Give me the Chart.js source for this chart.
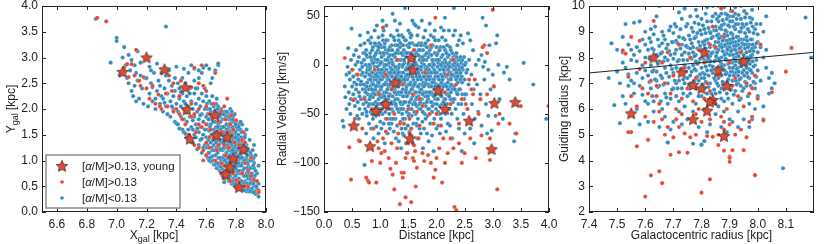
<!DOCTYPE html>
<html><head><meta charset="utf-8">
<script src="https://cdn.jsdelivr.net/npm/chart.js@4/dist/chart.umd.min.js"></script>
<style>
html,body{margin:0;padding:0;background:#fff;width:830px;height:244px;overflow:hidden}
canvas{position:absolute;left:0;top:0}
</style></head>
<body>
<canvas id="c1" width="830" height="244"></canvas>
<canvas id="c2" width="830" height="244"></canvas>
<canvas id="c3" width="830" height="244"></canvas>
<script>
// ---------------- DATA (flat x,y pairs) ----------------
// Panel 1: Xgal vs Ygal
const p1Young = [7.04,2.72, 7.20,3.0, 7.32,2.77, 7.46,2.42, 7.47,1.99, 7.49,1.42, 7.66,1.88, 7.67,1.49, 7.74,1.45, 7.85,1.22, 7.78,1.04, 7.76,0.87, 7.73,0.74, 7.82,0.48];
const p1High = [6.87,3.77, 6.93,3.7, 7.13,3.15, 7.05,2.8, 7.07,2.87, 7.1,2.87, 7.08,2.62, 7.12,2.65, 7.15,2.55, 7.18,2.62, 7.16,2.45, 7.2,2.4, 7.24,2.45, 7.22,2.2, 7.26,2.1, 7.29,2.05, 7.3,2.0, 7.35,2.65, 7.38,2.5, 7.37,2.35, 7.43,2.55, 7.42,2.25, 7.4,2.0, 7.44,1.8, 7.46,1.7, 7.47,1.93, 7.5,1.85, 7.52,1.9, 7.55,1.7, 7.53,1.55, 7.5,2.42, 7.55,2.5, 7.58,2.45, 7.6,2.35, 7.66,2.7, 7.57,2.85, 7.52,2.8, 7.48,1.5, 7.52,1.3, 7.55,1.25, 7.58,1.2, 7.6,1.35, 7.62,1.25, 7.6,1.1, 7.63,1.6, 7.65,1.85, 7.62,1.9, 7.68,1.75, 7.7,1.95, 7.72,2.05, 7.74,2.2, 7.69,1.55, 7.68,1.3, 7.66,1.0, 7.7,0.95, 7.72,1.3, 7.74,1.55, 7.76,1.7, 7.78,1.6, 7.73,1.1, 7.75,0.85, 7.7,0.75, 7.72,0.65, 7.78,0.75, 7.8,1.0, 7.82,1.3, 7.85,1.55, 7.84,1.4, 7.83,1.15, 7.86,0.95, 7.88,0.8, 7.82,0.58, 7.8,0.47, 7.86,0.5, 7.9,0.7, 7.92,0.62, 7.94,0.6, 7.95,0.42, 7.95,0.38, 7.88,0.5, 7.84,0.75, 7.79,1.35, 7.77,1.05, 7.75,1.25, 7.65,1.45, 7.6,1.7, 7.57,1.65, 7.62,1.45, 7.67,1.2, 7.7,1.55, 7.73,1.8, 7.77,1.5, 7.45,2.0, 7.42,1.9, 7.38,1.95, 7.34,2.05, 7.33,2.3, 7.28,2.28, 7.58,1.0, 7.86,1.35, 7.9,1.05, 7.8,0.62, 7.76,0.6, 7.72,0.9, 7.77,1.88, 7.8,1.78, 7.65,2.1, 7.6,2.05, 7.55,2.0, 7.5,2.1];
const p1Low = [6.86,3.75, 6.96,2.9, 7.0,3.38, 7.0,3.32, 7.02,2.66, 7.03,2.7,
7.04,3.0, 7.05,3.2, 7.06,2.85, 7.07,2.6, 7.08,2.5, 7.09,2.75, 7.1,2.35, 7.1,2.95, 7.08,3.05,
7.11,2.25, 7.12,2.45, 7.13,2.7, 7.14,2.55, 7.15,2.2, 7.16,2.9, 7.17,2.4, 7.18,2.1, 7.19,2.6, 7.14,3.12, 7.13,2.15,
7.21,2.05, 7.22,2.3, 7.23,2.5, 7.24,2.15, 7.25,2.7, 7.26,2.0, 7.27,2.35, 7.28,2.55, 7.29,2.1, 7.3,2.25, 7.22,2.82, 7.27,2.88, 7.24,2.42, 7.29,2.45, 7.26,2.2,
7.31,1.95, 7.31,2.2, 7.32,2.4, 7.33,2.05, 7.34,1.9, 7.34,2.3, 7.35,2.55, 7.36,2.15, 7.36,1.85, 7.37,2.45, 7.38,2.0, 7.38,2.25, 7.39,1.75, 7.39,2.35, 7.4,2.1, 7.4,1.72, 7.35,2.75, 7.33,3.6, 7.37,2.05, 7.32,2.12,
7.41,1.7, 7.41,1.95, 7.42,2.2, 7.42,2.4, 7.43,1.85, 7.43,2.05, 7.44,1.6, 7.44,2.3, 7.45,1.55, 7.45,2.15, 7.46,1.95, 7.46,2.5, 7.47,1.45, 7.47,1.75, 7.47,2.25, 7.48,2.05, 7.48,1.6, 7.49,2.4, 7.49,1.85, 7.5,2.15, 7.5,1.35, 7.5,1.65, 7.44,2.6, 7.48,2.7, 7.42,1.62, 7.46,2.1, 7.41,2.5, 7.49,2.3, 7.45,1.8, 7.43,2.33, 7.48,1.4, 7.46,1.52,
7.51,1.35, 7.51,1.6, 7.51,2.0, 7.52,1.85, 7.52,2.3, 7.53,1.45, 7.53,1.7, 7.53,2.1, 7.54,1.22, 7.54,1.95, 7.54,2.4, 7.55,1.55, 7.55,1.8, 7.55,2.2, 7.56,1.4, 7.56,1.65, 7.56,2.05, 7.57,1.15, 7.57,1.9, 7.57,2.3, 7.58,1.5, 7.58,1.75, 7.58,2.15, 7.59,1.3, 7.59,1.6, 7.59,2.0, 7.6,1.1, 7.6,1.85, 7.6,2.25, 7.52,2.55, 7.55,2.6, 7.57,2.7, 7.52,1.5, 7.56,1.88, 7.58,1.25, 7.54,1.62, 7.59,2.4, 7.51,1.78, 7.53,2.4, 7.6,1.45, 7.55,1.3, 7.57,1.42,
7.61,1.05, 7.61,1.3, 7.61,1.6, 7.61,2.0, 7.62,1.15, 7.62,1.45, 7.62,1.8, 7.62,2.15, 7.63,0.98, 7.63,1.35, 7.63,1.7, 7.63,1.95, 7.64,1.2, 7.64,1.5, 7.64,1.85, 7.64,2.25, 7.65,0.92, 7.65,1.3, 7.65,1.6, 7.65,2.05, 7.66,1.1, 7.66,1.45, 7.66,1.75, 7.67,0.85, 7.67,1.25, 7.67,1.55, 7.67,1.95, 7.67,2.2, 7.68,1.05, 7.68,1.4, 7.68,1.7, 7.68,2.05, 7.69,0.8, 7.69,1.2, 7.69,1.5, 7.69,1.85, 7.7,1.0, 7.7,1.35, 7.7,1.65, 7.7,2.0, 7.63,2.5, 7.66,2.75, 7.68,2.85, 7.64,2.6, 7.62,1.58, 7.66,1.98, 7.64,1.08, 7.69,1.32, 7.61,1.9, 7.67,1.38, 7.7,0.75, 7.66,0.92, 7.62,1.0,
7.71,0.7, 7.71,0.95, 7.71,1.2, 7.71,1.5, 7.71,1.8, 7.72,0.8, 7.72,1.1, 7.72,1.35, 7.72,1.65, 7.72,1.95, 7.73,0.65, 7.73,0.9, 7.73,1.25, 7.73,1.55, 7.73,1.85, 7.74,0.75, 7.74,1.05, 7.74,1.4, 7.74,1.7, 7.75,0.6, 7.75,0.95, 7.75,1.2, 7.75,1.5, 7.75,1.8, 7.76,0.7, 7.76,1.0, 7.76,1.3, 7.76,1.6, 7.76,1.9, 7.77,0.55, 7.77,0.85, 7.77,1.15, 7.77,1.45, 7.77,1.75, 7.78,0.65, 7.78,0.95, 7.78,1.25, 7.78,1.55, 7.78,1.85, 7.79,0.5, 7.79,0.8, 7.79,1.1, 7.79,1.4, 7.79,1.65, 7.8,0.6, 7.8,0.9, 7.8,1.2, 7.8,1.5, 7.8,1.75, 7.72,0.58, 7.74,1.92, 7.76,2.0, 7.78,1.05, 7.75,1.35, 7.73,1.0, 7.77,1.62, 7.71,1.35, 7.79,0.95, 7.74,0.88, 7.76,1.45, 7.72,1.5, 7.78,1.4, 7.8,1.05, 7.75,1.65, 7.71,0.82, 7.77,1.3, 7.79,1.25, 7.73,1.4, 7.76,0.85, 7.74,1.55,
7.81,0.5, 7.81,0.75, 7.81,1.05, 7.81,1.35, 7.81,1.6, 7.82,0.65, 7.82,0.9, 7.82,1.2, 7.82,1.45, 7.82,1.7, 7.83,0.45, 7.83,0.8, 7.83,1.1, 7.83,1.3, 7.84,0.55, 7.84,0.95, 7.84,1.25, 7.84,1.55, 7.85,0.45, 7.85,0.7, 7.85,1.0, 7.85,1.4, 7.86,0.6, 7.86,0.85, 7.86,1.15, 7.86,1.5, 7.87,0.4, 7.87,0.75, 7.87,1.05, 7.87,1.3, 7.88,0.55, 7.88,0.9, 7.88,1.2, 7.89,0.45, 7.89,0.7, 7.89,1.0, 7.9,0.6, 7.9,0.85, 7.9,1.1, 7.84,1.7, 7.83,1.6, 7.86,1.3, 7.88,0.65, 7.82,1.02, 7.85,0.58, 7.81,1.22, 7.87,0.95, 7.83,1.75, 7.87,1.6, 7.89,1.4,
7.91,0.4, 7.91,0.7, 7.92,0.5, 7.92,0.85, 7.93,0.35, 7.93,0.6, 7.94,0.45, 7.94,0.75, 7.95,0.3, 7.95,0.55, 7.92,0.95, 7.91,1.0, 7.93,0.8, 7.91,1.2, 7.92,1.3, 7.93,1.1, 7.95,0.9,
7.55,2.75, 7.58,2.8, 7.62,2.78, 7.6,2.85, 7.68,2.88, 7.52,2.78, 7.5,2.85, 7.39,2.6, 7.4,2.82, 7.2,2.6, 7.23,2.75, 7.77,1.95, 7.79,1.9, 7.45,2.78, 7.33,2.65, 7.12,2.85, 7.16,2.65, 7.3,2.7,
7.605,1.25, 7.605,1.7, 7.605,2.1, 7.615,1.4, 7.615,1.8, 7.615,1.15, 7.625,1.05, 7.625,1.65, 7.625,2.0, 7.635,1.25, 7.635,1.5, 7.635,1.85, 7.635,2.1, 7.645,1.0, 7.645,1.4, 7.645,1.75, 7.655,1.2, 7.655,1.55, 7.655,1.95,
7.665,0.95, 7.665,1.35, 7.665,1.65, 7.665,2.1, 7.675,1.15, 7.675,1.45, 7.675,1.85, 7.685,0.9, 7.685,1.25, 7.685,1.6, 7.685,1.95, 7.695,1.05, 7.695,1.4, 7.695,1.75, 7.705,0.85, 7.705,1.2, 7.705,1.55, 7.705,1.9,
7.715,1.05, 7.715,1.4, 7.715,1.65, 7.725,0.72, 7.725,1.0, 7.725,1.25, 7.725,1.8, 7.735,0.8, 7.735,1.15, 7.735,1.45, 7.735,1.7, 7.745,0.65, 7.745,0.95, 7.745,1.3, 7.745,1.6, 7.745,1.85, 7.755,0.8, 7.755,1.1, 7.755,1.4, 7.755,1.7,
7.765,0.62, 7.765,0.9, 7.765,1.2, 7.765,1.55, 7.765,1.8, 7.775,0.75, 7.775,1.0, 7.775,1.35, 7.775,1.65, 7.785,0.55, 7.785,0.85, 7.785,1.15, 7.785,1.45, 7.785,1.75, 7.795,0.7, 7.795,1.0, 7.795,1.3, 7.795,1.55,
7.805,0.5, 7.805,0.8, 7.805,1.1, 7.805,1.4, 7.805,1.65, 7.815,0.65, 7.815,0.95, 7.815,1.25, 7.815,1.5, 7.825,0.5, 7.825,0.75, 7.825,1.05, 7.825,1.35, 7.825,1.6, 7.835,0.6, 7.835,0.9, 7.835,1.2, 7.835,1.45,
7.845,0.45, 7.845,0.8, 7.845,1.05, 7.845,1.35, 7.855,0.55, 7.855,0.85, 7.855,1.15, 7.855,1.3, 7.865,0.45, 7.865,0.7, 7.865,1.0, 7.865,1.25, 7.875,0.55, 7.875,0.85, 7.875,1.1, 7.885,0.4, 7.885,0.75, 7.885,1.0,
7.895,0.55, 7.895,0.85, 7.895,1.15, 7.905,0.45, 7.905,0.75, 7.915,0.55, 7.915,0.9, 7.925,0.4, 7.925,0.7, 7.935,0.5,
7.677,0.95, 7.677,1.65, 7.677,2.0, 7.697,0.88, 7.697,1.22, 7.697,1.6, 7.717,0.78, 7.717,1.25, 7.717,1.55, 7.717,1.9, 7.737,0.95, 7.737,1.3, 7.737,1.6, 7.737,1.95,
7.757,0.6, 7.757,0.95, 7.757,1.25, 7.757,1.55, 7.757,1.85, 7.777,0.6, 7.777,0.88, 7.777,1.2, 7.777,1.5, 7.777,1.8, 7.797,0.55, 7.797,0.85, 7.797,1.15, 7.797,1.45, 7.797,1.7,
7.817,0.5, 7.817,0.8, 7.817,1.1, 7.817,1.4, 7.817,1.65, 7.837,0.48, 7.837,0.75, 7.837,1.05, 7.837,1.3, 7.837,1.55, 7.857,0.42, 7.857,0.7, 7.857,1.0, 7.857,1.45,
7.877,0.45, 7.877,0.7, 7.877,0.95, 7.877,1.2, 7.897,0.4, 7.897,0.65, 7.897,1.0, 7.917,0.38, 7.917,0.65, 7.917,1.05];

// Panel 2: Distance vs Radial velocity
const p2Young = [1.55,7, 1.58,-5, 1.27,-18, 2.03,-26, 1.10,-40, 0.93,-47, 2.15,-45, 3.03,-39, 3.40,-38, 2.58,-57, 0.53,-62, 0.82,-83, 1.53,-75, 2.98,-86];
const p2High = [0.37,7, 0.45,-84, 0.48,-117, 0.5,-5, 0.52,-36, 0.55,-55, 0.62,-77, 0.64,-78, 0.68,-65, 0.75,-115, 0.78,-118, 0.8,-120, 0.85,-98, 0.88,-65, 0.93,-120, 0.95,-78, 0.97,-85, 1.0,-100, 1.02,-90, 1.05,-75, 1.08,-88, 1.1,-68, 1.12,-55, 1.15,-95, 1.18,-106, 1.2,-80, 1.22,-112, 1.25,-127, 1.28,-100, 1.3,-85, 1.32,-70, 1.35,-60, 1.38,-110, 1.4,-115, 1.42,-110, 1.45,-95, 1.48,-90, 1.5,-80, 1.52,-70, 1.55,-65, 1.58,-95, 1.6,-82, 1.62,-88, 1.65,-105, 1.63,-124, 1.68,-75, 1.7,-62, 1.75,-90, 1.78,-98, 1.85,-92, 1.9,-100, 1.95,-115, 1.98,-107, 2.0,-95, 2.05,-85, 2.1,-120, 2.15,-100, 2.2,-90, 2.25,-75, 2.3,-85, 2.35,-148, 2.32,-145, 2.4,-80, 2.5,-90, 2.6,-75, 2.7,-95, 2.8,-72, 2.95,-97, 3.08,-127, 3.5,-42, 3.99,-42, 1.35,-142, 1.45,-135, 0.9,-5, 1.05,38, 1.1,-10, 1.2,-25, 1.3,5, 1.4,-20, 1.5,-45, 1.6,15, 1.7,-35, 1.8,-8, 1.9,20, 2.0,-50, 2.15,-28, 2.25,-40, 2.35,-20, 2.45,-35, 2.55,-45, 2.65,-30, 2.75,-50, 2.85,20, 2.9,-30, 3.0,56, 3.1,-60, 3.12,-50, 3.42,-70, 2.9,12, 2.82,18, 2.62,-25, 2.68,-15, 2.78,-35, 3.02,-22, 2.58,-15, 1.98,48, 2.3,5, 2.2,-10, 1.15,-40, 0.98,-30, 0.72,-35, 0.6,-10, 1.52,-55, 1.75,-42, 1.95,-60, 1.65,-48, 2.08,-62, 2.12,-75, 1.42,-60, 1.58,-30, 1.12,-45, 0.85,-45, 1.25,-50, 1.55,-140, 1.6,-98, 1.88,-50, 2.4,-60, 2.45,-100, 2.52,-40, 2.95,-75, 3.3,-60];
const p2Low = [0.33,-57, 0.35,-63, 0.37,-22, 0.38,-33, 0.4,-10, 0.4,-45,
0.42,-2, 0.43,17, 0.44,-28, 0.45,-40, 0.46,-15, 0.47,-50, 0.48,5, 0.49,37, 0.5,-22, 0.45,-8, 0.48,-35,
0.51,-5, 0.52,-30, 0.53,10, 0.54,-18, 0.55,-42, 0.56,0, 0.57,-25, 0.58,-10, 0.59,-52, 0.6,3, 0.55,-35, 0.58,-20, 0.52,-12, 0.6,-38, 0.57,15,
0.61,-15, 0.62,-28, 0.62,8, 0.63,-45, 0.64,-5, 0.65,-20, 0.65,20, 0.66,-35, 0.67,-10, 0.67,2, 0.68,-50, 0.69,-25, 0.7,12, 0.7,-40, 0.64,30, 0.68,-2, 0.66,-17, 0.63,-32, 0.69,-8, 0.62,-55,
0.71,-20, 0.71,5, 0.72,-33, 0.72,22, 0.73,-12, 0.73,-45, 0.74,0, 0.74,-25, 0.75,15, 0.75,-38, 0.76,-8, 0.76,-52, 0.77,-18, 0.77,8, 0.78,-30, 0.78,-2, 0.79,-42, 0.79,25, 0.8,-15, 0.8,-60, 0.72,-102, 0.75,-70, 0.78,33, 0.74,-28, 0.77,-5, 0.73,12,
0.81,-5, 0.81,-35, 0.82,12, 0.82,-22, 0.83,-48, 0.83,0, 0.84,-12, 0.84,28, 0.85,-30, 0.85,5, 0.86,-40, 0.86,-18, 0.87,18, 0.87,-55, 0.88,-8, 0.88,-27, 0.89,8, 0.89,-45, 0.9,-15, 0.9,-2, 0.9,35, 0.84,-65, 0.88,-75, 0.85,-20, 0.82,-3, 0.87,-33, 0.89,-12, 0.83,22, 0.86,2, 0.8,-25,
0.91,-25, 0.91,10, 0.92,-38, 0.92,-5, 0.93,20, 0.93,-15, 0.94,-30, 0.94,3, 0.95,-50, 0.95,-20, 0.96,15, 0.96,-8, 0.97,-35, 0.97,28, 0.98,-12, 0.98,-45, 0.99,0, 0.99,-22, 1.0,12, 1.0,-58, 1.0,-32, 0.93,-63, 0.97,-70, 0.95,-2, 0.92,5, 0.96,-28, 0.99,-40, 0.94,40, 0.98,22, 0.91,-12, 0.96,-17, 0.93,-42,
1.01,-8, 1.01,-25, 1.02,18, 1.02,-40, 1.03,2, 1.03,-15, 1.04,-50, 1.04,30, 1.05,-5, 1.05,-30, 1.06,10, 1.06,-20, 1.07,-42, 1.07,-2, 1.08,22, 1.08,-12, 1.09,-35, 1.09,5, 1.1,-55, 1.1,-18, 1.1,15, 1.02,-65, 1.06,-60, 1.08,-80, 1.04,-10, 1.07,-28, 1.03,-33, 1.09,-48, 1.05,25, 1.01,3, 1.08,0, 1.06,35, 1.04,45,
1.11,-5, 1.11,-28, 1.12,12, 1.12,-45, 1.13,-15, 1.13,25, 1.14,0, 1.14,-35, 1.15,-22, 1.15,8, 1.16,-50, 1.16,-10, 1.17,18, 1.17,-30, 1.18,-3, 1.18,-40, 1.19,-18, 1.19,30, 1.2,5, 1.2,-25, 1.2,-60, 1.13,-70, 1.17,-65, 1.15,-8, 1.12,-20, 1.19,-10, 1.16,2, 1.14,15, 1.18,-55, 1.11,40, 1.2,-38,
1.21,-12, 1.21,15, 1.22,-32, 1.22,2, 1.23,-48, 1.23,-20, 1.24,28, 1.24,-5, 1.25,-38, 1.25,10, 1.26,-25, 1.26,-2, 1.27,-55, 1.27,20, 1.28,-12, 1.28,-42, 1.29,5, 1.29,-30, 1.3,-18, 1.3,35, 1.3,-62, 1.22,52, 1.26,45, 1.24,-68, 1.28,-75, 1.23,-8, 1.25,-15, 1.27,-35, 1.29,-8, 1.21,-40, 1.26,8,
1.31,-5, 1.31,-35, 1.32,12, 1.32,-22, 1.33,-48, 1.33,25, 1.34,-12, 1.34,0, 1.35,-30, 1.35,18, 1.36,-58, 1.36,-8, 1.37,-40, 1.37,5, 1.38,-18, 1.38,30, 1.39,-50, 1.39,-2, 1.4,-25, 1.4,10, 1.4,-70, 1.33,-78, 1.37,-85, 1.35,42, 1.39,-15, 1.32,-3, 1.36,-28, 1.34,-45, 1.38,-65, 1.31,15, 1.4,-40, 1.33,-15, 1.36,22,
1.41,-8, 1.41,-45, 1.42,15, 1.42,-20, 1.43,-32, 1.43,2, 1.44,-55, 1.44,25, 1.45,-12, 1.45,-38, 1.46,8, 1.46,-25, 1.47,-3, 1.47,-48, 1.48,20, 1.48,-15, 1.49,-62, 1.49,-30, 1.5,0, 1.5,-42, 1.5,35, 1.42,-72, 1.46,-80, 1.44,58, 1.48,-90, 1.43,-18, 1.45,12, 1.47,-22, 1.49,-5, 1.41,28, 1.5,-20, 1.45,-65,
1.51,-12, 1.51,18, 1.52,-28, 1.52,5, 1.53,-45, 1.53,-5, 1.54,28, 1.54,-18, 1.55,-35, 1.55,12, 1.56,-52, 1.56,-2, 1.57,-25, 1.57,22, 1.58,-40, 1.58,8, 1.59,-15, 1.59,-60, 1.6,-30, 1.6,15, 1.6,42, 1.52,-68, 1.55,-72, 1.58,-80, 1.57,45, 1.53,32, 1.56,-10, 1.59,0, 1.51,-50, 1.54,-8, 1.6,-5, 1.58,-22, 1.52,-38,
1.61,-8, 1.61,-38, 1.62,20, 1.62,-18, 1.63,-50, 1.63,2, 1.64,-28, 1.64,12, 1.65,-12, 1.65,-42, 1.66,30, 1.66,-22, 1.67,-2, 1.67,-55, 1.68,15, 1.68,-32, 1.69,-10, 1.69,-45, 1.7,5, 1.7,-20, 1.7,-65, 1.63,40, 1.66,-75, 1.68,38, 1.62,-5, 1.64,-35, 1.67,-15, 1.69,22, 1.61,10, 1.65,0, 1.7,-40, 1.64,-60,
1.71,-25, 1.71,8, 1.72,-45, 1.72,-5, 1.73,22, 1.73,-15, 1.74,-35, 1.74,2, 1.75,-58, 1.75,-20, 1.76,15, 1.76,-8, 1.77,-40, 1.77,28, 1.78,-28, 1.78,0, 1.79,-50, 1.79,-12, 1.8,10, 1.8,-32, 1.8,35, 1.72,-70, 1.76,-85, 1.74,45, 1.78,-65, 1.73,-25, 1.75,5, 1.77,-18, 1.79,20, 1.71,-38, 1.8,-3,
1.81,-18, 1.81,-42, 1.82,5, 1.82,-28, 1.83,18, 1.83,-10, 1.84,-52, 1.84,-2, 1.85,-35, 1.85,25, 1.86,-20, 1.86,8, 1.87,-45, 1.87,-5, 1.88,15, 1.88,-30, 1.89,-12, 1.89,-60, 1.9,0, 1.9,-38, 1.9,30, 1.83,-70, 1.86,-78, 1.88,42, 1.82,-15, 1.85,-8, 1.87,-22, 1.89,10, 1.84,-32,
1.91,-22, 1.91,10, 1.92,-48, 1.92,-8, 1.93,20, 1.93,-30, 1.94,-15, 1.94,2, 1.95,-40, 1.95,28, 1.96,-5, 1.96,-55, 1.97,-25, 1.97,12, 1.98,-35, 1.98,-12, 1.99,5, 1.99,-45, 2.0,-20, 2.0,18, 2.0,-65, 1.92,-72, 1.95,-88, 1.97,35, 1.93,-2, 1.96,-18, 1.99,-30, 1.91,-38, 1.98,25,
2.01,-8, 2.01,-35, 2.02,12, 2.02,-22, 2.03,-48, 2.03,2, 2.04,-15, 2.04,25, 2.05,-30, 2.05,5, 2.06,-42, 2.06,-5, 2.07,18, 2.07,-20, 2.08,-55, 2.08,-10, 2.09,8, 2.09,-32, 2.1,-2, 2.1,-40, 2.1,28, 2.03,-62, 2.06,-70, 2.08,38, 2.02,-2, 2.05,-15, 2.09,-18, 2.04,-28,
2.11,-15, 2.11,10, 2.12,-28, 2.12,0, 2.13,-45, 2.13,18, 2.14,-8, 2.14,-35, 2.15,5, 2.15,-20, 2.16,25, 2.16,-50, 2.17,-12, 2.17,2, 2.18,-30, 2.18,12, 2.19,-5, 2.19,-40, 2.2,-18, 2.2,8, 2.2,-60, 2.13,35, 2.17,-68, 2.15,48, 2.19,20, 2.12,-22, 2.16,-2,
2.21,-5, 2.21,-30, 2.22,10, 2.22,-15, 2.23,-45, 2.23,2, 2.24,-22, 2.24,18, 2.25,-8, 2.25,-35, 2.26,5, 2.26,-12, 2.27,-50, 2.27,-2, 2.28,12, 2.28,-25, 2.29,0, 2.29,-38, 2.3,-10, 2.3,8, 2.3,30, 2.24,-62, 2.28,-75, 2.22,35, 2.31,58, 2.26,-20, 2.23,-8,
2.31,-5, 2.31,-22, 2.32,5, 2.32,-35, 2.33,-12, 2.33,10, 2.34,-2, 2.34,-45, 2.35,2, 2.35,-15, 2.36,8, 2.36,-28, 2.37,-8, 2.37,-55, 2.38,0, 2.38,-18, 2.39,5, 2.39,-40, 2.4,-10, 2.4,25, 2.33,35, 2.37,20, 2.4,-65, 2.35,-5,
2.41,-2, 2.42,5, 2.42,-25, 2.43,-8, 2.44,2, 2.44,-40, 2.45,-12, 2.46,5, 2.46,-30, 2.47,-5, 2.48,0, 2.48,-50, 2.49,8, 2.5,-15, 2.5,-70, 2.45,-88, 2.43,30, 2.47,22, 2.49,-35,
2.52,2, 2.53,-8, 2.55,-45, 2.56,32, 2.57,-20, 2.58,5, 2.6,-65, 2.62,-10, 2.63,-40, 2.65,15, 2.66,-25, 2.68,-55, 2.7,0, 2.55,-5, 2.6,25, 2.67,-80, 2.53,-30,
2.72,-20, 2.74,-48, 2.75,5, 2.78,-30, 2.8,10, 2.8,-62, 2.82,48, 2.85,-15, 2.86,3, 2.88,-40, 2.9,-70, 2.92,-5, 2.94,20, 2.96,-25, 2.98,-67, 3.0,-10, 2.88,40, 2.83,-2, 2.92,-52,
3.05,-52, 3.08,30, 3.1,0, 3.18,-55, 3.2,-8, 3.25,-2, 3.3,-15, 3.38,-78, 3.4,-70, 3.55,2, 3.72,-20, 3.95,-55, 3.12,-35, 3.06,22, 3.02,-22,
0.755,10, 0.755,-22, 0.755,-48, 0.805,0, 0.805,-10, 0.805,-40, 0.855,15, 0.855,-8, 0.855,-25, 0.855,-50, 0.905,-30, 0.905,-5, 0.905,22, 0.955,5, 0.955,-12, 0.955,-40,
1.005,-15, 1.005,2, 1.005,20, 1.005,-48, 1.055,-12, 1.055,12, 1.055,-38, 1.105,-28, 1.105,0, 1.105,25, 1.155,-32, 1.155,-15, 1.155,15, 1.155,-60, 1.205,-5, 1.205,20, 1.205,-45,
1.255,-28, 1.255,-8, 1.255,25, 1.305,-45, 1.305,-10, 1.305,20, 1.355,-38, 1.355,-20, 1.355,5, 1.405,-55, 1.405,-32, 1.405,0, 1.405,20, 1.455,-28, 1.455,-5, 1.455,25,
1.505,-52, 1.505,-10, 1.505,12, 1.555,-25, 1.555,-45, 1.555,0, 1.555,30, 1.605,-48, 1.605,-20, 1.605,5, 1.655,-33, 1.655,-5, 1.655,20, 1.655,-62, 1.705,-28, 1.705,-12, 1.705,15,
1.755,-48, 1.755,-30, 1.755,8, 1.805,-20, 1.805,-5, 1.805,22, 1.805,-55, 1.855,-45, 1.855,-12, 1.855,12, 1.905,-28, 1.905,-8, 1.905,18, 1.955,-32, 1.955,-15, 1.955,0,
2.005,-40, 2.005,-8, 2.005,10, 2.055,-22, 2.055,15, 2.055,-50, 2.105,-28, 2.105,-12, 2.105,2, 2.155,-35, 2.155,-10, 2.155,15, 2.205,-25, 2.205,0, 2.205,-45,
2.255,-15, 2.255,15, 2.255,-28, 2.305,0, 2.305,-35, 2.355,-8, 2.355,12, 2.405,-5, 2.405,-25, 2.455,-3, 2.455,-18, 2.505,0, 2.505,-30,
0.825,-15, 0.825,8, 0.825,-32, 0.875,-20, 0.875,2, 0.875,-40, 0.925,-10, 0.925,12, 0.925,-22, 0.925,-52, 0.975,-5, 0.975,-18, 0.975,18, 0.975,-28,
1.025,-22, 1.025,-5, 1.025,8, 1.025,-45, 1.075,-8, 1.075,-20, 1.075,18, 1.075,-32, 1.125,-12, 1.125,5, 1.125,-25, 1.125,-38, 1.175,-8, 1.175,10, 1.175,-20, 1.175,-45,
1.225,-25, 1.225,0, 1.225,10, 1.225,-55, 1.275,-40, 1.275,-2, 1.275,12, 1.275,-22, 1.325,-28, 1.325,-8, 1.325,5, 1.325,30, 1.375,-45, 1.375,-12, 1.375,-28, 1.375,12,
1.425,-15, 1.425,5, 1.425,-38, 1.475,-10, 1.475,-32, 1.475,12, 1.525,-20, 1.525,-2, 1.525,22, 1.575,-12, 1.575,-32, 1.575,10, 1.625,-28, 1.625,0, 1.625,-40,
1.675,-22, 1.675,-8, 1.675,10, 1.725,-35, 1.725,-2, 1.725,20, 1.775,-12, 1.775,-22, 1.775,5, 1.825,-38, 1.825,-5, 1.825,12, 1.875,-15, 1.875,-28, 1.875,0,
1.925,-42, 1.925,-18, 1.925,5, 1.975,-8, 1.975,-22, 2.025,-12, 2.025,5, 2.025,-35, 2.075,-28, 2.075,0, 2.125,-5, 2.125,-38, 2.175,-22, 2.175,12,
2.225,-32, 2.225,-2, 2.275,-10, 2.275,5, 2.325,-25, 2.325,2, 2.375,-12, 2.375,-30, 2.425,8, 2.425,-15];

// Panel 3: Galactocentric radius vs Guiding radius
const p3Young = [7.63,8.0, 7.81,8.2, 7.95,7.85, 7.73,7.42, 7.86,7.5, 7.77,6.93, 7.80,6.8, 7.89,6.9, 7.84,6.35, 7.83,6.28, 7.82,5.93, 7.77,5.6, 7.55,5.83, 7.88,4.95];
const p3High = [7.52,8.28, 7.54,7.25, 7.55,6.5, 7.57,6.1, 7.55,5.1, 7.54,5.1, 7.57,4.55, 7.6,5.7, 7.61,4.8, 7.62,3.42, 7.65,3.58, 7.66,3.12, 7.6,2.6, 7.69,4.22, 7.72,4.32, 7.75,4.3, 7.8,2.75, 7.83,3.27, 7.99,3.43, 7.9,4.15, 7.9,3.95, 7.88,4.38, 7.95,4.4, 7.63,9.42, 7.58,8.65, 7.6,7.8, 7.64,6.9, 7.65,6.2, 7.66,5.6, 7.67,5.0, 7.7,4.9, 7.72,5.3, 7.73,5.8, 7.74,5.05, 7.76,4.9, 7.78,5.0, 7.8,5.5, 7.82,4.95, 7.84,4.92, 7.86,4.6, 7.88,5.2, 7.9,5.4, 7.92,5.0, 7.94,5.2, 7.96,4.9, 7.98,5.7, 8.0,6.4, 8.02,5.55, 8.05,6.65, 8.1,7.45, 8.12,8.37, 8.01,8.5, 7.99,7.3, 7.97,6.6, 7.95,6.1, 7.93,6.5, 7.91,6.9, 7.89,6.0, 7.87,5.7, 7.85,6.2, 7.83,6.7, 7.81,6.4, 7.79,6.0, 7.77,6.3, 7.75,6.8, 7.73,6.4, 7.71,6.0, 7.69,6.6, 7.67,7.0, 7.64,6.5, 7.62,7.1, 7.7,7.3, 7.74,7.6, 7.78,7.2, 7.82,7.0, 7.86,7.3, 7.9,7.8, 7.94,8.2, 7.88,8.8, 7.84,9.2, 7.87,9.9, 7.91,9.8, 7.83,8.5, 7.79,8.3, 7.76,8.0, 7.72,8.5, 7.68,8.2, 7.66,7.8, 7.81,7.8, 7.85,8.4, 7.92,7.2, 7.96,7.0, 7.97,5.5, 7.98,6.8, 7.59,6.8, 7.55,8.8, 7.53,8.15, 7.58,7.55, 7.61,6.6, 7.63,5.5, 7.65,5.9, 7.68,5.3, 7.71,5.6, 7.78,5.8, 7.83,5.6, 7.86,5.0, 7.88,5.5, 7.91,4.4, 7.9,4.1];
const p3Low = [7.48,8.55, 7.47,7.2, 7.5,7.45, 7.49,6.15, 7.51,7.0, 7.5,8.3, 7.52,8.8, 7.51,5.45,
7.52,8.2, 7.53,7.6, 7.53,6.2, 7.54,8.5, 7.54,6.9, 7.55,7.9, 7.55,7.1, 7.53,9.3, 7.52,6.5, 7.55,8.3, 7.54,7.35, 7.52,7.8,
7.56,8.1, 7.56,6.6, 7.57,8.4, 7.57,7.4, 7.58,9.4, 7.58,6.9, 7.59,8.7, 7.59,7.7, 7.6,8.0, 7.6,6.3, 7.56,9.35, 7.57,6.0, 7.58,5.4, 7.59,7.2, 7.6,8.5, 7.57,7.85, 7.6,7.5, 7.58,8.25, 7.56,7.0, 7.59,6.55,
7.61,8.3, 7.61,7.3, 7.61,6.2, 7.62,8.6, 7.62,7.7, 7.62,6.8, 7.63,8.9, 7.63,7.5, 7.63,5.9, 7.64,8.1, 7.64,7.1, 7.64,6.5, 7.65,8.45, 7.65,7.85, 7.65,6.9, 7.62,9.1, 7.64,9.6, 7.65,10.0, 7.61,5.5, 7.63,6.3, 7.64,7.45, 7.65,5.3, 7.62,8.0, 7.6,9.0, 7.63,8.3,
7.66,8.2, 7.66,7.2, 7.66,6.0, 7.67,8.7, 7.67,7.6, 7.67,6.6, 7.68,8.5, 7.68,7.9, 7.68,7.0, 7.68,4.7, 7.69,9.2, 7.69,8.1, 7.69,6.4, 7.7,8.6, 7.7,7.4, 7.7,6.8, 7.7,5.5, 7.66,9.0, 7.67,5.7, 7.69,7.7, 7.66,8.55, 7.68,6.2, 7.7,8.95, 7.67,8.0, 7.69,5.2, 7.7,7.95,
7.71,8.3, 7.71,7.6, 7.71,6.5, 7.71,9.2, 7.72,8.8, 7.72,7.9, 7.72,7.1, 7.72,5.9, 7.73,8.5, 7.73,8.1, 7.73,6.8, 7.73,9.5, 7.74,8.7, 7.74,7.7, 7.74,7.0, 7.74,6.1, 7.75,8.4, 7.75,7.9, 7.75,7.2, 7.75,6.5, 7.72,9.75, 7.74,9.9, 7.75,9.3, 7.71,7.0, 7.73,7.45, 7.75,5.6, 7.72,6.3, 7.74,8.2, 7.71,8.65, 7.73,5.4,
7.76,8.7, 7.76,8.0, 7.76,7.3, 7.76,6.6, 7.77,9.0, 7.77,8.4, 7.77,7.7, 7.77,6.9, 7.78,8.8, 7.78,8.1, 7.78,7.5, 7.78,6.2, 7.79,9.3, 7.79,8.6, 7.79,7.8, 7.79,7.1, 7.8,8.9, 7.8,8.3, 7.8,7.6, 7.8,6.5, 7.8,4.6, 7.76,9.6, 7.78,9.85, 7.77,5.9, 7.79,5.3, 7.76,7.0, 7.78,6.8, 7.8,7.2, 7.77,8.2, 7.79,6.5, 7.76,8.35, 7.8,9.5, 7.78,7.85, 7.77,4.65,
7.81,9.1, 7.81,8.5, 7.81,7.9, 7.81,7.2, 7.82,9.4, 7.82,8.7, 7.82,8.1, 7.82,7.5, 7.82,6.6, 7.83,9.0, 7.83,8.4, 7.83,7.7, 7.83,7.0, 7.84,9.6, 7.84,8.8, 7.84,8.2, 7.84,7.4, 7.84,6.3, 7.85,9.2, 7.85,8.6, 7.85,7.9, 7.85,7.1, 7.85,5.8, 7.81,6.0, 7.83,5.4, 7.82,9.95, 7.84,10.0, 7.81,8.25, 7.83,8.05, 7.85,8.35, 7.82,7.85, 7.84,7.65, 7.81,6.8, 7.85,6.6, 7.83,6.2, 7.85,9.7, 7.82,5.1,
7.86,9.4, 7.86,8.9, 7.86,8.3, 7.86,7.6, 7.86,6.9, 7.87,9.7, 7.87,9.1, 7.87,8.5, 7.87,8.0, 7.87,7.3, 7.87,6.4, 7.88,9.3, 7.88,8.7, 7.88,8.2, 7.88,7.7, 7.88,7.0, 7.88,5.9, 7.89,9.5, 7.89,9.0, 7.89,8.4, 7.89,7.9, 7.89,7.4, 7.89,6.6, 7.9,9.2, 7.9,8.7, 7.9,8.1, 7.9,7.6, 7.9,6.9, 7.9,5.6, 7.86,10.0, 7.88,9.95, 7.87,5.3, 7.89,5.1, 7.86,8.6, 7.88,8.45, 7.9,8.4, 7.87,7.75, 7.89,8.15, 7.86,7.2, 7.88,6.3, 7.9,7.3, 7.87,8.8, 7.89,8.65, 7.86,6.1, 7.9,9.6,
7.91,9.4, 7.91,8.9, 7.91,8.3, 7.91,7.8, 7.91,7.1, 7.91,6.2, 7.92,9.7, 7.92,9.1, 7.92,8.6, 7.92,8.0, 7.92,7.4, 7.92,6.7, 7.93,9.3, 7.93,8.8, 7.93,8.2, 7.93,7.6, 7.93,7.0, 7.93,5.9, 7.94,9.5, 7.94,9.0, 7.94,8.4, 7.94,7.8, 7.94,7.2, 7.94,6.4, 7.95,9.2, 7.95,8.7, 7.95,8.1, 7.95,7.5, 7.95,6.8, 7.92,9.95, 7.94,10.0, 7.91,5.5, 7.93,5.3, 7.95,5.6, 7.91,8.6, 7.93,8.5, 7.92,8.3, 7.94,8.7, 7.91,7.45, 7.93,7.3, 7.95,7.9, 7.92,7.7, 7.94,6.9,
7.96,9.3, 7.96,8.8, 7.96,8.2, 7.96,7.6, 7.96,6.9, 7.97,9.0, 7.97,8.5, 7.97,7.9, 7.97,7.2, 7.97,6.2, 7.98,9.5, 7.98,8.7, 7.98,8.1, 7.98,7.4, 7.98,5.6, 7.99,9.1, 7.99,8.4, 7.99,7.7, 7.99,6.8, 8.0,8.9, 8.0,8.2, 8.0,7.5, 8.0,6.5, 7.96,9.7, 7.98,9.85, 7.97,5.3, 7.99,6.0, 7.96,8.5, 7.98,8.35, 8.0,8.6, 7.97,7.55, 7.99,7.0,
8.01,8.4, 8.01,7.1, 8.02,8.0, 8.02,9.0, 8.02,6.1, 8.03,7.6, 8.03,8.3, 8.04,7.2, 8.04,6.6, 8.03,9.6, 8.05,7.4, 8.06,7.0, 8.05,6.8, 8.09,3.7, 8.17,9.55, 8.19,8.0, 8.01,9.3, 8.02,5.6,
7.81,4.75, 7.8,4.62, 7.68,4.7,
7.765,9.15, 7.765,8.55, 7.765,7.95, 7.765,7.45, 7.765,6.85, 7.775,9.35, 7.775,8.75, 7.775,8.05, 7.775,7.55, 7.775,7.1, 7.785,9.6, 7.785,8.95, 7.785,8.35, 7.785,7.75, 7.785,7.25,
7.795,9.05, 7.795,8.45, 7.795,7.95, 7.795,7.35, 7.795,6.75, 7.805,9.25, 7.805,8.6, 7.805,8.0, 7.805,7.4, 7.805,6.95, 7.815,9.7, 7.815,8.95, 7.815,8.35, 7.815,7.65, 7.815,7.05,
7.825,9.15, 7.825,8.55, 7.825,7.95, 7.825,7.3, 7.825,6.85, 7.835,9.4, 7.835,8.75, 7.835,8.15, 7.835,7.5, 7.835,6.6, 7.845,9.05, 7.845,8.45, 7.845,7.85, 7.845,7.2, 7.845,6.75,
7.855,9.5, 7.855,8.85, 7.855,8.2, 7.855,7.6, 7.855,7.0, 7.865,9.15, 7.865,8.45, 7.865,7.85, 7.865,7.4, 7.865,6.65, 7.875,9.45, 7.875,8.65, 7.875,8.25, 7.875,7.55, 7.875,7.05,
7.885,9.7, 7.885,9.05, 7.885,8.5, 7.885,7.95, 7.885,7.35, 7.895,9.25, 7.895,8.55, 7.895,7.75, 7.895,7.15, 7.895,6.4, 7.905,9.8, 7.905,8.95, 7.905,8.25, 7.905,7.45, 7.905,6.75,
7.915,9.2, 7.915,8.45, 7.915,7.95, 7.915,7.3, 7.915,6.55, 7.925,9.5, 7.925,8.8, 7.925,8.15, 7.925,7.55, 7.925,6.95, 7.935,9.0, 7.935,8.35, 7.935,7.8, 7.935,7.15, 7.935,6.35,
7.945,9.3, 7.945,8.55, 7.945,7.95, 7.945,7.4, 7.945,6.7, 7.955,9.55, 7.955,8.95, 7.955,8.35, 7.955,7.7, 7.955,7.05, 7.965,9.1, 7.965,8.4, 7.965,7.8, 7.965,7.25, 7.965,6.5,
7.975,9.35, 7.975,8.7, 7.975,8.05, 7.975,7.5, 7.975,6.9, 7.985,8.95, 7.985,8.25, 7.985,7.65, 7.985,7.05, 7.995,9.3, 7.995,8.55, 7.995,7.9, 7.995,7.25,
7.615,8.75, 7.615,7.95, 7.615,7.05, 7.625,8.35, 7.625,7.45, 7.625,6.5, 7.635,9.2, 7.635,7.15, 7.645,8.7, 7.645,7.75, 7.645,6.85, 7.655,8.15, 7.655,7.3, 7.655,6.3,
7.665,8.85, 7.665,7.85, 7.665,6.95, 7.675,8.35, 7.675,7.4, 7.675,6.45, 7.685,9.05, 7.685,8.25, 7.685,7.25, 7.695,8.6, 7.695,7.55, 7.695,6.75, 7.705,9.3, 7.705,8.15, 7.705,7.1,
7.715,8.55, 7.715,7.85, 7.715,6.8, 7.725,9.1, 7.725,8.35, 7.725,7.55, 7.735,8.75, 7.735,7.9, 7.735,7.15, 7.735,6.6, 7.745,9.2, 7.745,8.45, 7.745,7.45, 7.755,8.85, 7.755,8.15, 7.755,7.6, 7.755,6.9,
7.852,9.05, 7.852,8.05, 7.852,7.3, 7.862,9.6, 7.862,8.75, 7.862,7.95, 7.872,9.25, 7.872,8.4, 7.872,7.65, 7.872,6.8, 7.882,8.9, 7.882,8.1, 7.882,7.5,
7.892,9.65, 7.892,8.85, 7.892,8.3, 7.892,7.05, 7.902,9.4, 7.902,8.55, 7.902,7.85, 7.912,9.6, 7.912,8.75, 7.912,8.1, 7.912,7.6, 7.922,9.3, 7.922,8.45, 7.922,7.85, 7.922,7.1,
7.932,9.65, 7.932,8.65, 7.932,8.05, 7.932,7.45, 7.942,9.15, 7.942,8.25, 7.942,7.65, 7.952,9.8, 7.952,8.5, 7.952,7.3, 7.962,8.65, 7.962,8.0, 7.962,7.4,
7.972,9.55, 7.972,8.25, 7.972,7.75, 7.982,9.2, 7.982,8.5, 7.982,7.85, 7.812,8.65, 7.812,7.35, 7.832,8.95, 7.832,7.85];
const oneToOne = [7.4, 8.2];

// Axis ranges and tick values
const p1X = [6.5, 8.0], p1Y = [0, 4];
const p1XTicks = [6.6, 6.8, 7.0, 7.2, 7.4, 7.6, 7.8, 8.0];
const p1YTicks = [0, 0.5, 1.0, 1.5, 2.0, 2.5, 3.0, 3.5, 4.0];
const p2X = [0, 4], p2Y = [-150, 60];
const p2XTicks = [0, 0.5, 1.0, 1.5, 2.0, 2.5, 3.0, 3.5, 4.0];
const p2YTicks = [-150, -100, -50, 0, 50];
const p3X = [7.4, 8.2], p3Y = [2, 10];
const p3XTicks = [7.4, 7.5, 7.6, 7.7, 7.8, 7.9, 8.0, 8.1];
const p3YTicks = [2, 3, 4, 5, 6, 7, 8, 9, 10];
const legendLabels = ['[α/M]>0.13, young', '[α/M]>0.13', '[α/M]<0.13'];

// ---------------- RENDERING ----------------
const RED = '#E24A33', BLUE = '#348ABD', TXT = '#222';
const FONTF = '"Liberation Sans", Arial, sans-serif';
const pairs = a => { const r = []; for (let i = 0; i < a.length; i += 2) r.push({x: a[i], y: a[i + 1]}); return r; };

function starCanvas(R) {
  const s = Math.ceil(R * 2 + 4);
  const c = document.createElement('canvas'); c.width = s; c.height = s;
  const g = c.getContext('2d');
  g.translate(s / 2, s / 2 + R * 0.08);
  g.beginPath();
  for (let i = 0; i < 10; i++) {
    const r = i % 2 ? R * 0.48 : R;
    const a = -Math.PI / 2 + i * Math.PI / 5;
    g.lineTo(r * Math.cos(a), r * Math.sin(a));
  }
  g.closePath();
  g.fillStyle = RED; g.fill();
  g.lineWidth = 0.8; g.strokeStyle = '#4a2a22'; g.stroke();
  return c;
}
const STAR = starCanvas(6);

function drawParts(ctx, parts, x, y, align) {
  const base = 12, sub = 9;
  let w = 0;
  const m = parts.map(p => {
    ctx.font = (p.it ? 'italic ' : '') + (p.sub ? sub : (p.size || base)) + 'px ' + FONTF;
    const ww = ctx.measureText(p.t).width; w += ww; return ww;
  });
  let cx = align === 'left' ? x : x - w / 2;
  parts.forEach((p, i) => {
    ctx.font = (p.it ? 'italic ' : '') + (p.sub ? sub : (p.size || base)) + 'px ' + FONTF;
    ctx.fillText(p.t, cx, y + (p.sub ? 3 : 0));
    cx += m[i];
  });
}

const decor = {
  id: 'decor',
  afterDraw(chart, args, o) {
    const {ctx, chartArea: a} = chart;
    const xs = chart.scales.x, ys = chart.scales.y;
    ctx.save();
    ctx.strokeStyle = TXT; ctx.lineWidth = 1;
    ctx.beginPath();
    xs.ticks.forEach(t => {
      const px = Math.round(xs.getPixelForValue(t.value)) + 0.5;
      ctx.moveTo(px, a.bottom); ctx.lineTo(px, a.bottom - 4);
      ctx.moveTo(px, a.top); ctx.lineTo(px, a.top + 4);
    });
    ys.ticks.forEach(t => {
      const py = Math.round(ys.getPixelForValue(t.value)) + 0.5;
      ctx.moveTo(a.left, py); ctx.lineTo(a.left + 4, py);
      ctx.moveTo(a.right, py); ctx.lineTo(a.right - 4, py);
    });
    ctx.stroke();
    ctx.strokeRect(Math.round(a.left) + 0.5, Math.round(a.top) + 0.5, Math.round(a.right - a.left) - 1, Math.round(a.bottom - a.top) - 1);
    ctx.fillStyle = TXT; ctx.textBaseline = 'alphabetic'; ctx.textAlign = 'left';
    drawParts(ctx, o.xTitle, (a.left + a.right) / 2, 239, 'center');
    ctx.save();
    ctx.translate(o.yTitleX, (a.top + a.bottom) / 2);
    ctx.rotate(-Math.PI / 2);
    drawParts(ctx, o.yTitle, 0, 0, 'center');
    ctx.restore();
    if (o.legend) {
      const L = o.legend;
      ctx.fillStyle = '#fff';
      ctx.fillRect(L.x, L.y, L.w, L.h);
      ctx.strokeStyle = '#8c8c8c'; ctx.lineWidth = 1.5;
      ctx.strokeRect(L.x, L.y, L.w, L.h);
      const rows = [L.y + 11, L.y + 27, L.y + 43];
      ctx.drawImage(STAR, L.x + 16 - STAR.width / 2, rows[0] - STAR.height / 2);
      ctx.fillStyle = RED; ctx.beginPath(); ctx.arc(L.x + 16, rows[1], 1.8, 0, Math.PI * 2); ctx.fill();
      ctx.fillStyle = BLUE; ctx.beginPath(); ctx.arc(L.x + 16, rows[2], 1.8, 0, Math.PI * 2); ctx.fill();
      ctx.fillStyle = TXT; ctx.textBaseline = 'middle';
      legendLabels.forEach((lab, i) => {
        const k = lab.indexOf('α');
        drawParts(ctx, [{t: lab.slice(0, k), size: 11.5}, {t: 'α', it: true, size: 11.5}, {t: lab.slice(k + 1), size: 11.5}], L.x + 36, rows[i] + 1, 'left');
      });
    }
    ctx.restore();
  }
};

const fmt1 = v => (v < 0 ? '\u2212' : '') + Math.abs(v).toFixed(1);
const fmt0 = v => (v < 0 ? '\u2212' : '') + Math.abs(v).toFixed(0);

function makeChart(id, c) {
  const W = 40;
  const fixY = s => { s.width = W; s.paddingTop = 0; s.paddingBottom = 0; s.paddingLeft = 0; s.paddingRight = 0; };
  const fixX = s => { s.height = 244 - 212; s.paddingTop = 0; s.paddingBottom = 0; s.paddingLeft = 0; s.paddingRight = 0; };
  const tickFont = {family: FONTF, size: 12};
  const datasets = [
    {label: 'young', data: pairs(c.young), pointStyle: STAR, pointRadius: 6, backgroundColor: RED, borderWidth: 0}
  ];
  if (c.line) datasets.push({type: 'line', label: 'line', data: [{x: c.line[0], y: c.line[0]}, {x: c.line[1], y: c.line[1]}], borderColor: '#222', borderWidth: 1, pointRadius: 0, showLine: true, fill: false});
  datasets.push({label: 'high', data: pairs(c.high), pointRadius: 2.1, backgroundColor: RED, borderColor: 'rgba(255,255,255,0.45)', borderWidth: 0.5});
  datasets.push({label: 'low', data: pairs(c.low), pointRadius: 2.1, backgroundColor: BLUE, borderColor: 'rgba(255,255,255,0.45)', borderWidth: 0.5});
  return new Chart(document.getElementById(id), {
    type: 'scatter',
    data: {datasets},
    options: {
      responsive: false, animation: false, devicePixelRatio: 1, events: [],
      layout: {padding: {left: c.left - W, right: 830 - c.right, top: 6, bottom: 0}},
      scales: {
        x: {type: 'linear', min: c.xr[0], max: c.xr[1], afterFit: fixX,
            afterBuildTicks: s => { s.ticks = c.xt.map(v => ({value: v})); },
            ticks: {autoSkip: false, maxRotation: 0, padding: 5, font: tickFont, color: TXT, callback: c.xf},
            grid: {display: false, drawTicks: false}, border: {display: false}},
        y: {type: 'linear', min: c.yr[0], max: c.yr[1], afterFit: fixY,
            afterBuildTicks: s => { s.ticks = c.yt.map(v => ({value: v})); },
            ticks: {autoSkip: false, padding: 4, font: tickFont, color: TXT, callback: c.yf},
            grid: {display: false, drawTicks: false}, border: {display: false}}
      },
      plugins: {legend: {display: false}, tooltip: {enabled: false},
        decor: {xTitle: c.xTitle, yTitle: c.yTitle, yTitleX: c.yTitleX, legend: c.legend}}
    },
    plugins: [decor]
  });
}

makeChart('c1', {left: 42, right: 266, xr: p1X, yr: p1Y, xt: p1XTicks, yt: p1YTicks, xf: fmt1, yf: fmt1,
  young: p1Young, high: p1High, low: p1Low,
  xTitle: [{t: 'X'}, {t: 'gal', sub: true}, {t: ' [kpc]'}],
  yTitle: [{t: 'Y'}, {t: 'gal', sub: true}, {t: ' [kpc]'}], yTitleX: 15,
  legend: {x: 46, y: 155, w: 134, h: 53}});
makeChart('c2', {left: 324, right: 549, xr: p2X, yr: p2Y, xt: p2XTicks, yt: p2YTicks, xf: fmt1, yf: fmt0,
  young: p2Young, high: p2High, low: p2Low,
  xTitle: [{t: 'Distance [kpc]'}], yTitle: [{t: 'Radial Velocity [km/s]'}], yTitleX: 286});
makeChart('c3', {left: 589, right: 814, xr: p3X, yr: p3Y, xt: p3XTicks, yt: p3YTicks, xf: fmt1, yf: fmt0,
  young: p3Young, high: p3High, low: p3Low, line: oneToOne,
  xTitle: [{t: 'Galactocentric radius [kpc]'}], yTitle: [{t: 'Guiding radius [kpc]'}], yTitleX: 568});
</script>
</body></html>
